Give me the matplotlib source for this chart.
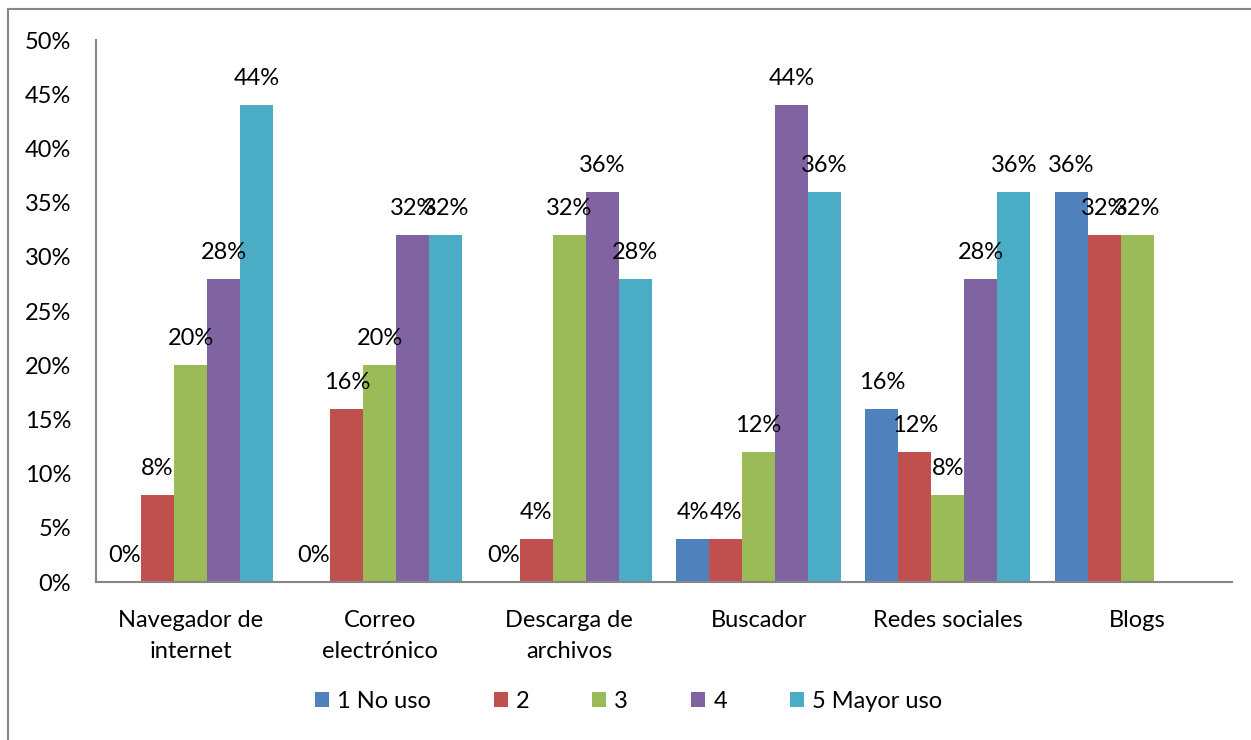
import numpy as np
import matplotlib.pyplot as plt
from matplotlib.patches import Rectangle

# Datos
categorias = ['Navegador de\ninternet', 'Correo\nelectrónico', 'Descarga de\narchivos',
              'Buscador', 'Redes sociales', 'Blogs']
series = ['1 No uso', '2', '3', '4', '5 Mayor uso']
valores_1 = [0, 0, 0, 4, 16, 36]
valores_2 = [8, 16, 4, 4, 12, 32]
valores_3 = [20, 20, 32, 12, 8, 32]
valores_4 = [28, 32, 36, 44, 28, np.nan]
valores_5 = [44, 32, 28, 36, 36, np.nan]
colores = ['#4F81BD', '#C0504D', '#9BBB59', '#8064A2', '#4BACC6']

plt.rcParams['font.family'] = ['Lato', 'DejaVu Sans']
fs = 17

fig = plt.figure(figsize=(12.51, 7.40), dpi=100)
ax = fig.add_axes([0.0767, 0.2135, 0.9081, 0.7324])

x = np.arange(len(categorias))
ancho = 0.1743
todas = [valores_1, valores_2, valores_3, valores_4, valores_5]
for i, (vals, nombre, color) in enumerate(zip(todas, series, colores)):
    pos = x + (i - 2) * ancho
    ax.bar(pos, vals, width=ancho, color=color, label=nombre)
    for px, v in zip(pos, vals):
        if np.isnan(v):
            continue
        ax.annotate(f'{v:.0f}%', (px, v), xytext=(0, 19), textcoords='offset points',
                    ha='center', va='center', fontsize=fs)

ax.set_xlim(-0.5, len(categorias) - 0.5)
ax.set_ylim(0, 50)
ax.set_yticks(np.arange(0, 51, 5))
ax.set_yticklabels([f'{t}%' for t in range(0, 51, 5)], fontsize=fs)
ax.set_xticks(x)
ax.set_xticklabels(categorias, fontsize=fs, linespacing=1.6)
ax.tick_params(axis='both', length=0)
ax.tick_params(axis='y', pad=18)
ax.tick_params(axis='x', pad=20)

for lado in ['top', 'right']:
    ax.spines[lado].set_visible(False)
for lado in ['left', 'bottom']:
    ax.spines[lado].set_color('#868686')
    ax.spines[lado].set_linewidth(1.5)

fig.legend(loc='center', bbox_to_anchor=(0.5024, 0.0527), ncol=5, frameon=False, fontsize=fs,
           handlelength=0.59, handleheight=0.59, handletextpad=0.34, columnspacing=2.67)

# Marco exterior
fig.patches.append(Rectangle((8 / 1251, -0.1), 1.2, 1 - 9 / 740 + 0.1, transform=fig.transFigure,
                             fill=False, edgecolor='#868686', linewidth=1.5))

fig.savefig('out.png', dpi=100)
